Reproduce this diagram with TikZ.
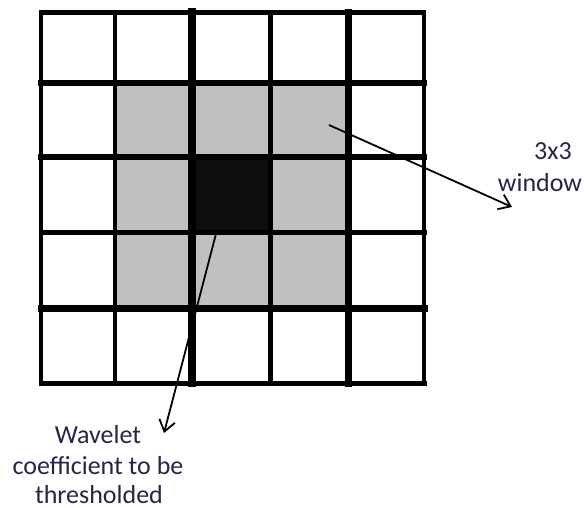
\documentclass[tikz,border=0pt]{standalone}
\usepackage{fontspec}
\setmainfont{Carlito}
\usetikzlibrary{arrows.meta}
\definecolor{cellgray}{RGB}{192,192,192}
\definecolor{cellblack}{RGB}{14,14,14}
\definecolor{labelcol}{RGB}{38,36,72}
\tikzset{
  gridline/.style={draw=black, line cap=rect},
  pointer/.style={draw=black, line width=1.8pt, -{Straight Barb[length=11pt,width=16pt,line width=1.8pt]}},
  lbl/.style={text=labelcol, font=\fontsize{26}{31}\selectfont, inner sep=0pt, anchor=base}
}
\begin{document}
\begin{tikzpicture}[x=1pt,y=-1pt]
\useasboundingbox (0,0) rectangle (584,508);
% cells
\fill[cellgray] (115,83) rectangle (348,308);
\fill[cellblack] (192,157) rectangle (270,232);
% vertical lines
\draw[gridline, line width=4.8pt] (41,12.5) -- (41,383);
\draw[gridline, line width=4.8pt] (115,12.5) -- (115,383);
\draw[gridline, line width=8pt] (192,12.5) -- (192,383);
\draw[gridline, line width=5pt] (270,12.5) -- (270,383);
\draw[gridline, line width=7pt] (348,12.5) -- (348,383);
\draw[gridline, line width=4.8pt] (424,12.5) -- (424,383);
% horizontal lines
\draw[gridline, line width=4.8pt] (41,12.5) -- (424,12.5);
\draw[gridline, line width=6pt] (41,83) -- (424,83);
\draw[gridline, line width=6pt] (41,157) -- (424,157);
\draw[gridline, line width=5pt] (41,232) -- (424,232);
\draw[gridline, line width=7pt] (41,308) -- (424,308);
\draw[gridline, line width=5pt] (41,383) -- (424,383);
% pointer anchors
\coordinate (winfrom) at (329,125);
\coordinate (winto) at (512,207);
\coordinate (coefffrom) at (217,230);
\coordinate (coeffto) at (164,433);
% labels
\node[lbl] (t3x3) at (553,160) {3x3};
\node[lbl] (twindow) at (540,192) {window};
\node[lbl] (twave) at (98,443) {Wavelet};
\node[lbl] (tcoef) at (98,474) {coefficient to be};
\node[lbl] (tthr) at (99,503) {thresholded};
% pointers
\draw[pointer] (winfrom) -- (winto);
\draw[pointer] (coefffrom) -- (coeffto);
\end{tikzpicture}
\end{document}
